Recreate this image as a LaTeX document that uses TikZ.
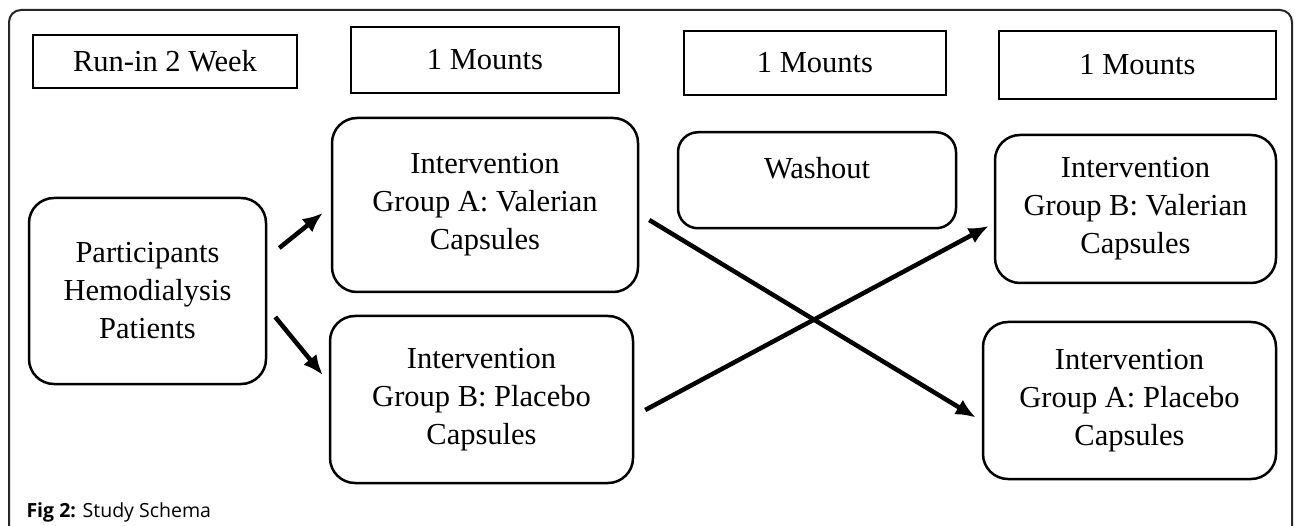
\documentclass[tikz,border=0pt]{standalone}
\usepackage{fontspec}
\setmainfont{Liberation Serif}
\newfontfamily\capfont{Open Sans}
\usetikzlibrary{arrows.meta}
\tikzset{
  period/.style={draw, line width=2.5pt, inner sep=0pt, font=\fontsize{30.5}{38}\selectfont},
  group/.style={draw, line width=2.5pt, rounded corners=25pt, align=center, inner sep=0pt, font=\fontsize{30.5}{38}\selectfont},
  arr/.style={-{Latex[length=20pt,width=17pt]}, line width=4.5pt}
}
\begin{document}
\begin{tikzpicture}[x=1pt,y=-1pt]
      \useasboundingbox (0,0) rectangle (1295,526);
      \draw[line width=2pt, rounded corners=12pt, black!85] (9,540) -- (9,10) -- (1292,10) -- (1292,540);
      \draw
        (165,61.5) node[period, minimum width=264pt, minimum height=53pt] (runin){Run-in 2 Week}
        (485,60) node[period, minimum width=268pt, minimum height=66pt] (month1){1 Mounts}
        (815,63) node[period, minimum width=262pt, minimum height=64pt] (month2){1 Mounts}
        (1137.5,65) node[period, minimum width=277pt, minimum height=68pt] (month3){1 Mounts}
        (147.5,291) node[group, minimum width=237pt, minimum height=186pt] (partic){Participants\\Hemodialysis\\Patients}
        (485,205) node[group, minimum width=306pt, minimum height=174pt] (valA){Intervention\\Group A: Valerian\\Capsules}
        (481.5,399.5) node[group, minimum width=303pt, minimum height=167pt] (placB){Intervention\\Group B: Placebo\\Capsules}
        (817,131) node[group, anchor=north, rounded corners=20pt, minimum width=278pt, text height=46pt, text depth=50pt] (washout){Washout}
        (1135.5,209) node[group, minimum width=281pt, minimum height=148pt] (valB){Intervention\\Group B: Valerian\\Capsules}
        (1129.5,400.5) node[group, minimum width=293pt, minimum height=157pt] (placA){Intervention\\Group A: Placebo\\Capsules};
      \node[anchor=base west, font=\capfont\fontsize{19.5}{22}\selectfont] (caption) at (23,517) {\textbf{Fig 2:} Study Schema};
      \begin{scope}[arr]
        \draw ([shift={(12,-43)}]partic.east) to ([shift={(-8,8)}]valA.west);
        \draw ([shift={(8,26)}]partic.east) to ([shift={(-6,-24.5)}]placB.west);
        \draw ([shift={(10,15)}]valA.east) to ([shift={(-6,17)}]placA.west);
        \draw ([shift={(11,10.5)}]placB.east) to ([shift={(-5,17)}]valB.west);
      \end{scope}
    \end{tikzpicture}
\end{document}
